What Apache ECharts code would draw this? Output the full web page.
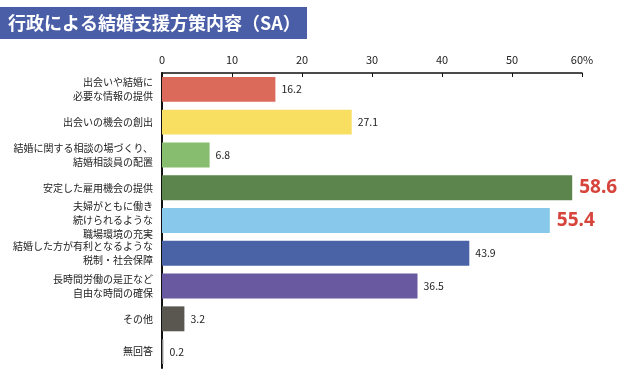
<!DOCTYPE html>
<html><head><meta charset="utf-8">
<script src="https://cdn.jsdelivr.net/npm/echarts@6/dist/echarts.min.js"></script>
<style>html,body{margin:0;padding:0;background:#fff}#c{width:630px;height:388px}</style>
</head><body><div id="c"></div>
<script>
const categories = [
  '出会いや結婚に\n必要な情報の提供',
  '出会いの機会の創出',
  '結婚に関する相談の場づくり、\n結婚相談員の配置',
  '安定した雇用機会の提供',
  '夫婦がともに働き\n続けられるような\n職場環境の充実',
  '結婚した方が有利となるような\n税制・社会保障',
  '長時間労働の是正など\n自由な時間の確保',
  'その他',
  '無回答'
];
const values = [16.2, 27.1, 6.8, 58.6, 55.4, 43.9, 36.5, 3.2, 0.2];
const colors = ['#db6a5a', '#f8df62', '#86bd6e', '#5b854c', '#88c8ea', '#4a63a7', '#6959a1', '#5a5751', '#8a8a8a'];
const highlight = [false, false, false, true, true, false, false, false, false];
const tickLabels = ['0', '10', '20', '30', '40', '50', '60%'];
const titleText = '行政による結婚支援方策内容（SA）';

const chart = echarts.init(document.getElementById('c'));
const font = '"Noto Sans CJK JP", "Noto Sans", sans-serif';
chart.setOption({
  animation: false,
  textStyle: { fontFamily: font },
  grid: { left: 162, right: 48, top: 73, bottom: 20, containLabel: false },
  xAxis: {
    type: 'value', position: 'top', min: 0, max: 60, interval: 10,
    axisLine: { show: true, lineStyle: { color: '#111', width: 1.5 } },
    axisTick: { show: true, inside: true, length: 4, lineStyle: { color: '#111' } },
    splitLine: { show: false },
    axisLabel: { color: '#222', fontSize: 11, margin: 8, fontFamily: font,
      formatter: (v) => tickLabels[Math.round(v / 10)] }
  },
  yAxis: {
    type: 'category', inverse: true, data: categories,
    axisLine: { show: true, lineStyle: { color: '#111', width: 2 } },
    axisTick: { show: false },
    axisLabel: { color: '#222', fontSize: 10, lineHeight: 14, margin: 9, align: 'right', fontFamily: font }
  },
  series: [{
    type: 'bar', barCategoryGap: '24%',
    data: values.map((v, i) => ({
      value: v,
      itemStyle: { color: colors[i] },
      label: highlight[i]
        ? { show: true, position: 'right', distance: 7, color: '#d6443c', fontSize: 19, fontWeight: 'bold', fontFamily: '"Noto Sans", sans-serif' }
        : { show: true, position: 'right', distance: 6, color: '#222', fontSize: 10.5, fontFamily: font }
    }))
  }],
  graphic: [
    { type: 'rect', shape: { x: 0, y: 7, width: 307, height: 32 }, style: { fill: '#4a5ea8' } },
    { type: 'text', x: 8, y: 23, style: { text: titleText, fill: '#fff', font: 'bold 18px ' + font, textVerticalAlign: 'middle' } }
  ]
});
</script></body></html>
